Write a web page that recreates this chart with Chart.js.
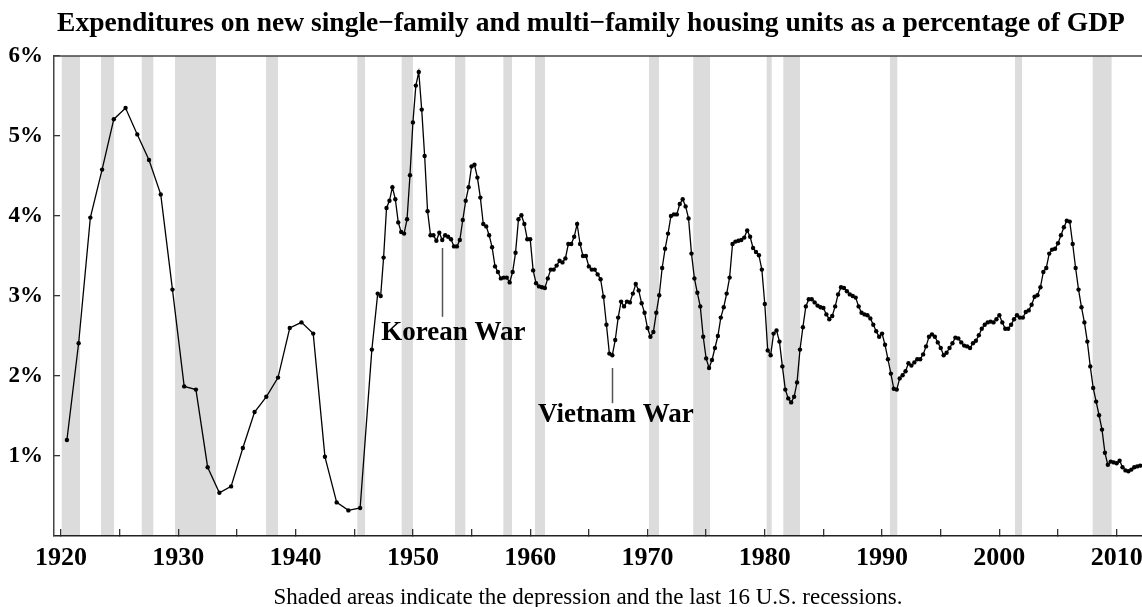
<!DOCTYPE html>
<html>
<head>
<meta charset="utf-8">
<script src="https://cdn.jsdelivr.net/npm/chart.js@4.4.1/dist/chart.umd.min.js"></script>
<style>
  html, body { margin:0; padding:0; background:#fff; }
  #wrap { width:1142px; height:607px; }
</style>
</head>
<body>
<div id="wrap"><canvas id="housingChart" width="1142" height="607"></canvas></div>
<script>
// residential investment (new units) as % of GDP
// annual values 1920-1946, plotted at mid-year
const annualStart = 1920;
const annualValues = [
  1.20, 2.41, 3.98, 4.58, 5.21, 5.35, 5.02, 4.70, 4.27, 3.08,
  1.87, 1.83, 0.86, 0.54, 0.62, 1.10, 1.55, 1.74, 1.98, 2.60,
  2.67, 2.53, 0.99, 0.42, 0.32, 0.35, 2.33
];

// quarterly values from 1947 Q1, one row per year
const quarterlyStart = 1947;
const quarterlyValues = [
  3.03, 3.00, 3.48, 4.10,   // 1947
  4.19, 4.36, 4.21, 3.92,
  3.80, 3.78, 3.96, 4.51,
  5.17, 5.63, 5.80, 5.33,   // 1950
  4.75, 4.06, 3.76, 3.76,
  3.69, 3.79, 3.70, 3.76,
  3.74, 3.71, 3.62, 3.62,
  3.70, 3.95, 4.19, 4.36,
  4.62, 4.64, 4.48, 4.23,   // 1955
  3.90, 3.87, 3.76, 3.61,
  3.37, 3.30, 3.22, 3.23,
  3.23, 3.17, 3.30, 3.54,
  3.96, 4.01, 3.90, 3.71,
  3.71, 3.32, 3.16, 3.12,   // 1960
  3.11, 3.10, 3.22, 3.33,
  3.33, 3.38, 3.44, 3.42,
  3.47, 3.65, 3.65, 3.74,
  3.90, 3.65, 3.50, 3.50,
  3.37, 3.33, 3.33, 3.27,   // 1965
  3.21, 2.99, 2.64, 2.28,
  2.26, 2.45, 2.73, 2.93,
  2.87, 2.93, 2.92, 3.03,
  3.15, 3.07, 2.91, 2.79,
  2.60, 2.49, 2.55, 2.79,   // 1970
  3.01, 3.35, 3.59, 3.78,
  4.00, 4.02, 4.02, 4.15,
  4.21, 4.12, 3.97, 3.53,
  3.22, 3.04, 2.87, 2.49,
  2.22, 2.10, 2.20, 2.35,   // 1975
  2.50, 2.73, 2.86, 3.03,
  3.23, 3.65, 3.68, 3.69,
  3.70, 3.73, 3.82, 3.74,
  3.60, 3.55, 3.51, 3.33,
  2.90, 2.32, 2.26, 2.53,   // 1980
  2.57, 2.43, 2.12, 1.83,
  1.72, 1.67, 1.74, 1.92,
  2.33, 2.61, 2.87, 2.96,
  2.96, 2.92, 2.88, 2.86,
  2.85, 2.77, 2.71, 2.75,   // 1985
  2.87, 3.02, 3.11, 3.10,
  3.06, 3.02, 3.00, 2.98,
  2.87, 2.79, 2.77, 2.76,
  2.72, 2.64, 2.56, 2.49,
  2.53, 2.39, 2.21, 2.03,   // 1990
  1.84, 1.83, 1.97, 2.01,
  2.06, 2.16, 2.13, 2.17,
  2.21, 2.21, 2.27, 2.37,
  2.49, 2.52, 2.49, 2.42,
  2.35, 2.26, 2.29, 2.35,   // 1995
  2.41, 2.48, 2.47, 2.42,
  2.38, 2.37, 2.35, 2.41,
  2.44, 2.51, 2.59, 2.64,
  2.67, 2.68, 2.67, 2.71,
  2.76, 2.67, 2.59, 2.59,   // 2000
  2.64, 2.71, 2.76, 2.73,
  2.73, 2.80, 2.82, 2.89,
  2.99, 3.01, 3.11, 3.30,
  3.35, 3.53, 3.58, 3.59,
  3.66, 3.76, 3.86, 3.94,   // 2005
  3.93, 3.65, 3.35, 3.08,
  2.86, 2.67, 2.43, 2.12,
  1.85, 1.68, 1.51, 1.33,
  1.04, 0.89, 0.93, 0.92,
  0.91, 0.94, 0.86, 0.82,   // 2010
  0.81, 0.83, 0.86, 0.87,
  0.88                      // 2012 Q1
];

// depression + recessions, [start, end] in decimal years
const recessions = [
  [1920.06, 1921.62], [1923.41, 1924.52], [1926.88, 1927.87], [1929.72, 1933.21],
  [1937.48, 1938.50], [1945.26, 1945.92], [1949.04, 1950.00], [1953.59, 1954.47],
  [1957.71, 1958.45], [1960.41, 1961.26], [1970.13, 1970.98], [1973.90, 1975.33],
  [1980.16, 1980.59], [1981.58, 1983.00], [1990.67, 1991.30], [2001.33, 2001.93],
  [2007.95, 2009.57]
];

const xTickYears = [1920,1925,1930,1935,1940,1945,1950,1955,1960,1965,1970,1975,1980,1985,1990,1995,2000,2005,2010];
const yTickValues = [1, 2, 3, 4, 5, 6];

const notes = [
  { text: 'Korean War',  lineX: 1952.45, lineTop: 3.60, lineBottom: 2.74, labelX: 1953.45, labelY: 2.45 },
  { text: 'Vietnam War', lineX: 1967.00, lineTop: 2.10, lineBottom: 1.66, labelX: 1967.31, labelY: 1.42 }
];

const titleText = 'Expenditures on new single\u2212family and multi\u2212family housing units as a percentage of GDP';
const footText = 'Shaded areas indicate the depression and the last 16 U.S. recessions.';

const points = [];
annualValues.forEach((v, i) => points.push({ x: annualStart + i + 0.5, y: v }));
quarterlyValues.forEach((v, i) => points.push({ x: quarterlyStart + i / 4, y: v }));

const serif = '"Liberation Serif", "Times New Roman", serif';

const extras = {
  id: 'extras',
  beforeDraw(chart) {
    const { ctx, chartArea: a, scales: { x } } = chart;
    ctx.save();
    ctx.fillStyle = '#dcdcdc';
    recessions.forEach(([s, e]) => {
      const x1 = x.getPixelForValue(s), x2 = x.getPixelForValue(e);
      ctx.fillRect(x1, a.top, x2 - x1, a.bottom - a.top);
    });
    ctx.restore();
  },
  afterDatasetsDraw(chart) {
    const { ctx, scales: { x, y } } = chart;
    ctx.save();
    notes.forEach(n => {
      const px = Math.round(x.getPixelForValue(n.lineX)) + 0.5;
      ctx.strokeStyle = '#555';
      ctx.lineWidth = 1.5;
      ctx.beginPath();
      ctx.moveTo(px, y.getPixelForValue(n.lineTop));
      ctx.lineTo(px, y.getPixelForValue(n.lineBottom));
      ctx.stroke();
      ctx.fillStyle = '#000';
      ctx.font = 'bold 27px ' + serif;
      ctx.textAlign = 'center';
      ctx.textBaseline = 'alphabetic';
      ctx.fillText(n.text, x.getPixelForValue(n.labelX), y.getPixelForValue(n.labelY));
    });
    ctx.restore();
  },
  afterDraw(chart) {
    const { ctx, chartArea: a } = chart;
    ctx.save();
    ctx.strokeStyle = '#444';
    ctx.lineWidth = 1.5;
    ctx.beginPath();
    ctx.moveTo(a.left, a.top);
    ctx.lineTo(a.right, a.top);
    ctx.stroke();
    ctx.fillStyle = '#000';
    ctx.textAlign = 'center';
    ctx.textBaseline = 'alphabetic';
    ctx.font = 'bold 27.5px ' + serif;
    ctx.fillText(titleText, 591, 31);
    ctx.font = '23px ' + serif;
    ctx.fillText(footText, 588, 604);
    ctx.restore();
  }
};

new Chart(document.getElementById('housingChart').getContext('2d'), {
  type: 'line',
  data: {
    datasets: [{
      data: points,
      borderColor: '#000',
      borderWidth: 1.3,
      backgroundColor: '#000',
      pointRadius: 2.2,
      pointBorderWidth: 0,
      pointBackgroundColor: '#000',
      tension: 0
    }]
  },
  options: {
    responsive: false,
    animation: false,
    devicePixelRatio: 1,
    // plot runs right up to the canvas edge, so no auto padding for the points
    layout: { autoPadding: false, padding: { top: 56, right: 0, bottom: 0, left: 0 } },
    plugins: { legend: { display: false }, tooltip: { enabled: false }, title: { display: false } },
    scales: {
      x: {
        type: 'linear',
        min: 1919.4,
        max: 2012.16,
        afterBuildTicks: s => { s.ticks = xTickYears.map(v => ({ value: v })); },
        afterFit: s => { s.height = 71; s.paddingRight = 0; s.paddingLeft = 0; },
        grid: { drawOnChartArea: false, tickLength: -7, color: '#333', lineWidth: 1.3 },
        border: { display: true, color: '#222', width: 1.5 },
        ticks: {
          padding: 14,
          maxRotation: 0,
          autoSkip: false,
          color: '#000',
          font: { family: serif, size: 26, weight: 'bold' },
          callback: v => (v % 10 === 0 ? String(v) : '')
        }
      },
      y: {
        min: 0,
        max: 6,
        afterBuildTicks: s => { s.ticks = yTickValues.map(v => ({ value: v })); },
        afterFit: s => { s.width = 54; },
        grid: { drawOnChartArea: false, tickLength: -6, color: '#333', lineWidth: 1.3 },
        border: { display: true, color: '#444', width: 1.5 },
        ticks: {
          padding: 17,
          color: '#000',
          font: { family: serif, size: 23, weight: 'bold' },
          callback: v => v + '%'
        }
      }
    }
  },
  plugins: [extras]
});
</script>
</body>
</html>
